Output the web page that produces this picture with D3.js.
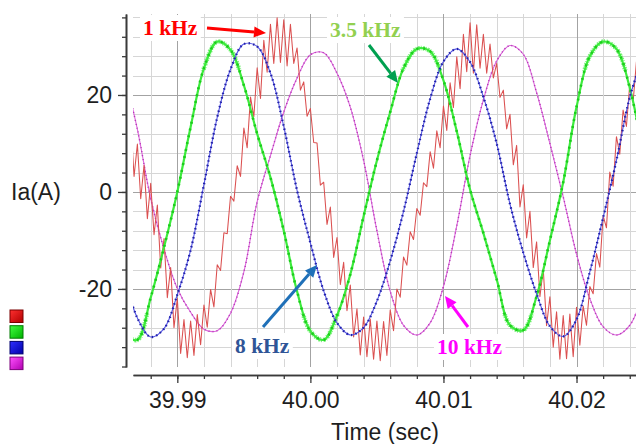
<!DOCTYPE html>
<html>
<head>
<meta charset="utf-8">
<script src="https://cdn.jsdelivr.net/npm/d3@7"></script>
<style>
  html, body { margin: 0; padding: 0; background: #ffffff; }
  svg { display: block; }
</style>
</head>
<body>
<svg id="chart" width="636" height="444"></svg>
<script>
// ---- Phase current Ia(A) for four switching frequencies ----
// Smooth traces are sampled every 1 ms starting at smoothStart (s).
const smoothStart = 39.986;
const smoothStep = 0.001;

// 3.5 kHz
const ia3k5 = [-29.5, -30.5, -21.8, -11.4, 0.0, 13.4, 25.5, 31.0, 29.3, 22.0,
               12.0, 3.0, -8.0, -20.5, -28.7, -30.5, -25.5, -17.0, -5.0, 6.5,
               16.5, 25.5, 29.5, 29.0, 23.0, 12.5, 0.5, -8.5, -18.0, -27.5,
               -28.5, -21.5, -10.0, 2.0, 17.5, 28.0, 31.0, 29.5, 21.5, 8.0];

// 8 kHz
const ia8k = [-17.3, -26.0, -29.9, -28.2, -21.2, -12.0, 1.5, 15.4, 25.3, 30.5,
              30.0, 24.5, 13.5, 0.3, -10.5, -20.4, -27.0, -29.5, -28.0, -22.5,
              -14.2, -4.0, 8.0, 19.2, 26.9, 29.5, 26.8, 19.6, 10.0, -2.5,
              -12.5, -21.0, -27.7, -29.8, -26.3, -16.5, -5.3, 6.5, 19.5, 28.0];

// 10 kHz
const ia10k = [24.5, 12.9, -1.4, -11.8, -19.9, -24.8, -28.3, -28.6, -25.0, -16.5,
               -2.0, 7.5, 16.5, 23.5, 28.3, 28.7, 24.5, 17.5, 6.5, -8.0,
               -20.5, -27.5, -29.5, -27.0, -19.5, -7.0, 7.5, 19.0, 27.0, 30.2,
               28.4, 20.5, 10.0, -1.0, -12.8, -22.0, -27.8, -29.5, -27.5, -21.0];

// 1 kHz trace carries the switching ripple, so it is sampled every 0.25 ms.
const rippleStart = 39.9865;
const rippleStep = 0.00025;
const ia1k = [14.5, 3.2, 9.9, -1.4, 5.5, -5.5, 1.8, -8.8, -2.7, -15.7,
              -9.6, -21.8, -15.6, -28.0, -22.0, -33.3, -26.3, -34.2, -26.6, -33.7,
              -25.3, -31.5, -23.3, -27.9, -20.1, -23.7, -15.0, -16.2, -8.4, -8.6,
              -0.9, -1.9, 5.4, 3.2, 13.2, 9.1, 19.6, 15.5, 25.6, 19.3,
              31.3, 24.7, 34.6, 26.5, 35.9, 26.7, 35.5, 26.0, 34.6, 26.5,
              29.7, 21.0, 22.7, 15.6, 17.2, 10.2, 10.1, 1.4, 2.0, -6.7,
              -3.1, -13.5, -9.4, -19.1, -14.5, -24.5, -19.2, -29.9, -24.1, -33.6,
              -25.8, -34.0, -26.2, -34.5, -26.6, -34.8, -26.7, -33.7, -24.3, -28.6,
              -20.0, -21.7, -13.4, -15.1, -8.2, -9.8, -3.4, -4.8, 1.9, 1.1,
              8.3, 4.9, 12.6, 9.1, 17.7, 12.7, 22.5, 17.4, 27.9, 21.3,
              32.5, 24.8, 34.9, 24.5, 34.5, 25.5, 32.5, 24.5, 30.5, 23.5,
              26.5, 19.5, 21.0, 13.0, 16.0, 5.6, 9.6, -3.1, 1.5, -9.5,
              -4.0, -15.6, -10.3, -21.6, -15.9, -27.6, -21.6, -32.0, -24.7, -34.5,
              -25.5, -34.4, -25.2, -34.0, -23.8, -31.6, -23.5, -27.5, -19.5, -21.0,
              -12.7, -15.5, -4.9, -7.4, 4.1, 1.2, 11.4, 7.8, 16.9, 13.5,
              22.2, 18.5, 26.8, 22.0, 31.0];

// Axis ticks
const xMajorTicks = [39.99, 40.00, 40.01, 40.02];
const xTickLabels = ["39.99", "40.00", "40.01", "40.02"];
const yMajorTicks = [-20, 0, 20];
const yTickLabels = ["-20", "0", "20"];

// Series labels (annotation text) in legend order
const seriesNames = ["1 kHz", "3.5 kHz", "8 kHz", "10 kHz"];

// ---------------------------------------------------------------
const svg = d3.select("#chart");
const plot = { left: 133, right: 636, top: 14, bottom: 367 };

const x = d3.scaleLinear().domain([39.98667, 40.02447]).range([plot.left, plot.right]);
const y = d3.scaleLinear().domain([-36.1, 36.7]).range([plot.bottom, plot.top]);

const toPoints = (values, start, step) => values.map((v, i) => [start + i * step, v]);

const defs = svg.append("defs");
defs.append("clipPath").attr("id", "plotClip")
  .append("rect")
  .attr("x", plot.left).attr("y", plot.top)
  .attr("width", plot.right - plot.left).attr("height", plot.bottom - plot.top);

// bands near the crests where the 3.5 kHz trace shows its high-frequency fuzz
const crest = defs.append("clipPath").attr("id", "crestClip");
crest.append("rect").attr("x", plot.left).attr("width", plot.right - plot.left)
  .attr("y", y(36)).attr("height", y(25) - y(36));
crest.append("rect").attr("x", plot.left).attr("width", plot.right - plot.left)
  .attr("y", y(-25)).attr("height", y(-36) - y(-25));

// ---- grid ----
const grid = svg.append("g").attr("clip-path", "url(#plotClip)");
const yGrid = d3.range(-9, 10).map(i => i * 4);
const xGrid = d3.range(0, 19).map(i => +(39.988 + i * 0.002).toFixed(3));
const isMajorX = t => xMajorTicks.some(m => Math.abs(m - t) < 1e-6);

grid.selectAll("line.hg").data(yGrid).join("line")
  .attr("x1", plot.left).attr("x2", plot.right)
  .attr("y1", d => Math.round(y(d)) + 0.5).attr("y2", d => Math.round(y(d)) + 0.5)
  .attr("stroke", d => d % 20 === 0 ? "#a3a3a3" : "#d6d6d6")
  .attr("stroke-width", 1);

grid.selectAll("line.vg").data(xGrid).join("line")
  .attr("y1", plot.top).attr("y2", plot.bottom)
  .attr("x1", d => Math.round(x(d)) + 0.5).attr("x2", d => Math.round(x(d)) + 0.5)
  .attr("stroke", d => isMajorX(d) ? "#a3a3a3" : "#d6d6d6")
  .attr("stroke-width", 1);

// ---- traces ----
const traces = svg.append("g").attr("clip-path", "url(#plotClip)");
const smoothLine = d3.line().x(d => x(d[0])).y(d => y(d[1])).curve(d3.curveCatmullRom.alpha(0.5));
const rippleLine = d3.line().x(d => x(d[0])).y(d => y(d[1]));

const p10 = toPoints(ia10k, smoothStart, smoothStep);
const p35 = toPoints(ia3k5, smoothStart, smoothStep);
const p8 = toPoints(ia8k, smoothStart, smoothStep);
const p1 = toPoints(ia1k, rippleStart, rippleStep);

// 10 kHz: thin magenta with darker dots
traces.append("path").attr("d", smoothLine(p10))
  .attr("fill", "none").attr("stroke", "#dc66dc").attr("stroke-width", 1.1);
traces.append("path").attr("d", smoothLine(p10))
  .attr("fill", "none").attr("stroke", "#b337b3").attr("stroke-width", 1.5)
  .attr("stroke-dasharray", "1,3");

// 1 kHz: red ripple trace
traces.append("path").attr("d", rippleLine(p1))
  .attr("fill", "none").attr("stroke", "#db5050").attr("stroke-width", 1.05)
  .attr("stroke-linejoin", "round");

// 3.5 kHz: bright green trace, thicker and fuzzy at the crests
traces.append("g").attr("clip-path", "url(#crestClip)")
  .append("path").attr("d", smoothLine(p35))
  .attr("fill", "none").attr("stroke", "#4cee4c").attr("stroke-width", 4.6)
  .attr("stroke-dasharray", "0.8,1.4,1.6,0.9").attr("opacity", 0.75);
traces.append("path").attr("d", smoothLine(p35))
  .attr("fill", "none").attr("stroke", "#3ceb3c").attr("stroke-width", 2.2);
traces.append("path").attr("d", smoothLine(p35))
  .attr("fill", "none").attr("stroke", "#1ccc1c").attr("stroke-width", 2.6)
  .attr("stroke-dasharray", "2,5");

// 8 kHz: blue trace with dark dots
traces.append("path").attr("d", smoothLine(p8))
  .attr("fill", "none").attr("stroke", "#5555e6").attr("stroke-width", 1.1);
traces.append("path").attr("d", smoothLine(p8))
  .attr("fill", "none").attr("stroke", "#2020a6").attr("stroke-width", 2.3)
  .attr("stroke-dasharray", "1.4,3.2");

// ---- axes ----
const axisFont = "'Liberation Sans', Arial, sans-serif";

const yAxisMinor = d3.axisLeft(y).tickValues(yGrid).tickSize(4).tickSizeOuter(0).tickFormat("");
const yAxisMajor = d3.axisLeft(y).tickValues(yMajorTicks).tickSize(8).tickSizeOuter(0)
  .tickPadding(6).tickFormat((d, i) => yTickLabels[i]);

const gy = svg.append("g").attr("transform", "translate(126,0)");
gy.call(yAxisMinor);
gy.append("g").call(yAxisMajor);
gy.selectAll("path.domain").attr("stroke", "#3a3a3a").attr("stroke-width", 1.6);
gy.selectAll(".tick line").attr("stroke", "#3a3a3a").attr("stroke-width", 1.3);
gy.selectAll(".tick text").attr("font-family", axisFont).attr("font-size", 23)
  .attr("fill", "#1e1e1e");

const xAxisMinor = d3.axisBottom(x).tickValues(xGrid).tickSize(4).tickSizeOuter(0).tickFormat("");
const xAxisMajor = d3.axisBottom(x).tickValues(xMajorTicks).tickSize(8).tickSizeOuter(0)
  .tickPadding(9).tickFormat((d, i) => xTickLabels[i]);

const gx = svg.append("g").attr("transform", "translate(0,375)");
gx.call(xAxisMinor);
gx.append("g").call(xAxisMajor);
gx.selectAll("path.domain").attr("stroke", "#3a3a3a").attr("stroke-width", 1.6);
gx.selectAll(".tick line").attr("stroke", "#3a3a3a").attr("stroke-width", 1.3);
gx.selectAll(".tick text").attr("font-family", axisFont).attr("font-size", 23)
  .attr("fill", "#1e1e1e");

svg.append("text").attr("x", 11).attr("y", 200)
  .attr("font-family", axisFont).attr("font-size", 23).attr("fill", "#1e1e1e")
  .text("Ia(A)");

svg.append("text").attr("x", 385).attr("y", 440).attr("text-anchor", "middle")
  .attr("font-family", axisFont).attr("font-size", 23).attr("fill", "#1e1e1e")
  .text("Time (sec)");

// ---- legend swatches ----
const swatchColors = [
  { light: "#ff3030", dark: "#b00000", edge: "#7a0000" },
  { light: "#40ff40", dark: "#00b000", edge: "#007a00" },
  { light: "#3030ff", dark: "#0000a8", edge: "#00006e" },
  { light: "#ff50ff", dark: "#b000b0", edge: "#7a007a" }
];
swatchColors.forEach((c, i) => {
  const g = defs.append("linearGradient").attr("id", "sw" + i)
    .attr("x1", "0").attr("y1", "0").attr("x2", "1").attr("y2", "1");
  g.append("stop").attr("offset", "0").attr("stop-color", c.light);
  g.append("stop").attr("offset", "1").attr("stop-color", c.dark);
});
svg.selectAll("rect.swatch").data(seriesNames).join("rect")
  .attr("x", 10).attr("y", (d, i) => 310 + i * 15.7)
  .attr("width", 13).attr("height", 12.5)
  .attr("fill", (d, i) => `url(#sw${i})`)
  .attr("stroke", (d, i) => swatchColors[i].edge).attr("stroke-width", 1);

// ---- annotations ----
const noteFont = "'Liberation Serif', 'Times New Roman', serif";
function arrow(x1, y1, x2, y2, color, width) {
  const a = Math.atan2(y2 - y1, x2 - x1);
  const hl = 12, hw = 5.5;
  const bx = x2 - hl * Math.cos(a), by = y2 - hl * Math.sin(a);
  svg.append("line").attr("x1", x1).attr("y1", y1).attr("x2", bx).attr("y2", by)
    .attr("stroke", color).attr("stroke-width", width);
  const px = -Math.sin(a) * hw, py = Math.cos(a) * hw;
  svg.append("polygon")
    .attr("points", `${x2},${y2} ${bx + px},${by + py} ${bx - px},${by - py}`)
    .attr("fill", color);
}
function note(text, tx, ty, color) {
  const t = svg.append("text").attr("x", tx).attr("y", ty)
    .attr("font-family", noteFont).attr("font-weight", "bold").attr("font-size", 21.5)
    .attr("fill", color).text(text);
  const b = t.node().getBBox();
  svg.insert("rect", () => t.node())
    .attr("x", b.x - 3).attr("y", b.y - 1).attr("width", b.width + 6).attr("height", b.height + 2)
    .attr("fill", "#ffffff");
}

note(seriesNames[0], 143, 35, "#ff0000");
arrow(207, 28, 266, 33, "#ff0000", 3);
note(seriesNames[1], 330, 37, "#92d050");
arrow(369, 45, 398, 83, "#00a050", 3);
note(seriesNames[2], 235, 353, "#2f5597");
arrow(263, 327, 317, 265, "#1f70b8", 3);
note(seriesNames[3], 437, 354, "#ff00ff");
arrow(468, 327, 445, 296, "#ff00ff", 3);
</script>
</body>
</html>
